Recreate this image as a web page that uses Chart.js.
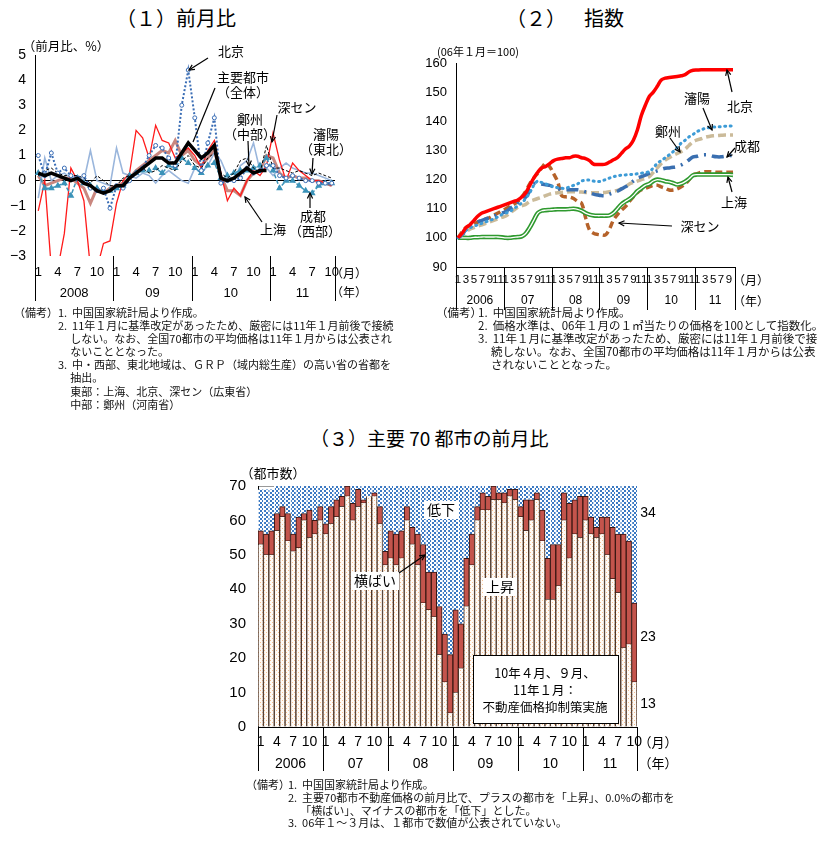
<!DOCTYPE html>
<html><head><meta charset="utf-8">
<script src="https://cdn.jsdelivr.net/npm/chart.js@4.4.0/dist/chart.umd.min.js"></script>
<style>
body{margin:0;background:#fff;width:832px;height:847px;position:relative;overflow:hidden;font-family:'Noto Sans CJK JP',sans-serif;}
canvas{position:absolute;}
.t{position:absolute;white-space:nowrap;color:#000;line-height:1;}
.note{position:absolute;white-space:nowrap;font-size:11.5px;line-height:13.1px;color:#111;}
</style></head><body>
<div class="t" style="left:116px;top:8px;font-size:20px;">（１）前月比</div>
<div class="t" style="left:506px;top:8px;font-size:20px;">（２）</div>
<div class="t" style="left:584px;top:8px;font-size:20px;">指数</div>
<div class="t" style="left:310px;top:428px;font-size:19px;">（３）主要 70 都市の前月比</div>

<canvas id="c1" width="420" height="310" style="left:0;top:0"></canvas>
<canvas id="c2" width="412" height="310" style="left:420px;top:0"></canvas>
<canvas id="c3" width="450" height="340" style="left:230px;top:440px"></canvas>

<div class="note" style="left:14px;top:306px;font-size:11px;">（備考）</div>
<div class="note" style="left:58px;top:306px;font-size:11px;">1.&nbsp;&nbsp;中国国家統計局より作成。<br>2.&nbsp;&nbsp;11年１月に基準改定があったため、厳密には11年１月前後で接続<br>&nbsp;&nbsp;&nbsp;&nbsp;&nbsp;しない。なお、全国70都市の平均価格は11年１月からは公表され<br>&nbsp;&nbsp;&nbsp;&nbsp;&nbsp;ないこととなった。<br>3.&nbsp;&nbsp;中・西部、東北地域は、ＧＲＰ（域内総生産）の高い省の省都を<br>&nbsp;&nbsp;&nbsp;&nbsp;&nbsp;抽出。<br>&nbsp;&nbsp;&nbsp;&nbsp;&nbsp;東部：上海、北京、深セン（広東省）<br>&nbsp;&nbsp;&nbsp;&nbsp;&nbsp;中部：鄭州（河南省）</div>

<div class="note" style="left:436px;top:306px;">（備考）</div>
<div class="note" style="left:478px;top:306px;">1.&nbsp;&nbsp;中国国家統計局より作成。<br>2.&nbsp;&nbsp;価格水準は、06年１月の１㎡当たりの価格を100として指数化。<br>3.&nbsp;&nbsp;11年１月に基準改定があったため、厳密には11年１月前後で接<br>&nbsp;&nbsp;&nbsp;&nbsp;&nbsp;続しない。なお、全国70都市の平均価格は11年１月からは公表<br>&nbsp;&nbsp;&nbsp;&nbsp;&nbsp;されないこととなった。</div>

<div class="note" style="left:246px;top:778px;font-size:11px;line-height:12.8px;">（備考）</div>
<div class="note" style="left:288px;top:778px;font-size:11px;line-height:12.8px;">1.&nbsp;&nbsp;中国国家統計局より作成。<br>2.&nbsp;&nbsp;主要70都市不動産価格の前月比で、プラスの都市を「上昇」、0.0%の都市を<br>&nbsp;&nbsp;&nbsp;&nbsp;&nbsp;「横ばい」、マイナスの都市を「低下」とした。<br>3.&nbsp;&nbsp;06年１～３月は、１都市で数値が公表されていない。</div>

<script>
const F = "'Noto Sans CJK JP', sans-serif";
const FN = "'Liberation Sans', Arial, sans-serif";

// ---------- (1) month-on-month, Jan 2008 - Oct 2011 ----------
const years1 = ['2008','09','10','11'];
const monthsIn1 = [12,12,12,10];
const zentai = [0.3,0.2,0.3,0.2,0.1,0.0,0.1,-0.1,-0.2,-0.4,-0.5,-0.4, -0.2,-0.2,0.1,0.3,0.5,0.7,0.9,0.9,0.7,0.7,1.1,1.5, 1.2,0.9,1.1,1.4,0.1,0.0,0.1,0.3,0.5,0.3,0.4,0.4, null,null,null,null,null,null,null,null,null,null];
const beijing1 = [1.0,0.2,1.1,0.3,0.5,0.2,0.1,0.2,-0.3,-0.4,-0.3,-1.1, -0.2,-0.3,0.0,0.3,0.5,1.0,1.4,1.3,0.9,0.6,3.0,4.4, 2.5,0.4,1.5,2.5,-0.1,0.0,0.0,0.1,0.5,0.3,0.4,0.6, 0.6,0.2,0.1,0.2,0.1,0.0,0.0,-0.1,-0.1,-0.1];
const shenzhen1 = [-1.2,0.0,-3.5,-3.5,-2.1,0.5,0.0,-0.8,-3.5,-3.5,-2.5,-2.4, -0.9,0.0,0.3,2.0,1.7,0.9,2.2,1.6,1.5,0.9,1.1,1.3, 1.0,0.5,1.2,1.6,0.3,-0.8,-0.3,-0.6,0.0,0.4,0.2,0.6, 1.9,0.8,0.0,0.7,0.4,0.2,0.0,0.0,-0.1,-0.2];
const shanghai1 = [0.2,-0.2,-0.1,0.0,0.1,0.1,-0.1,-0.3,-0.9,-0.3,-0.5,-0.3, -0.2,-0.1,0.1,0.4,0.6,0.8,1.0,1.2,1.1,1.6,1.0,1.2, 0.8,0.6,0.9,1.2,0.2,-0.4,-0.4,-0.6,0.0,0.3,0.4,1.0, 0.9,0.3,0.1,0.2,0.1,0.1,0.0,0.0,-0.1,-0.2];
const zhengzhou1 = [0.2,0.4,0.5,0.3,0.2,0.2,0.2,0.1,-0.1,0.2,0.0,-0.2, -0.2,0.1,0.2,0.3,0.5,0.3,0.4,0.6,0.5,0.4,0.8,1.0, 0.6,0.5,0.9,1.1,0.3,0.1,0.3,0.8,0.9,0.5,0.3,1.4, 0.5,0.5,0.4,0.3,0.4,0.3,0.2,0.3,0.2,0.1];
const shenyang1 = [-0.7,0.9,0.0,0.2,0.3,0.1,0.2,0.0,1.2,0.0,-0.1,-0.2, 1.3,0.3,0.2,0.1,0.3,0.2,-0.1,0.2,0.4,0.2,0.0,-0.1, 0.5,0.3,0.6,1.1,0.8,0.2,0.0,0.6,0.8,1.5,0.4,0.5, 0.2,0.5,0.7,0.5,0.4,0.3,0.3,0.2,0.1,0.0];
const chengdu1 = [0.3,-0.3,-0.3,-0.2,-0.1,-0.6,0.1,-0.1,-0.2,-0.3,-0.4,-0.4, -0.3,-0.2,0.2,0.3,0.4,0.4,0.5,0.3,0.6,0.5,0.9,0.7, 0.5,0.3,0.6,0.7,0.1,0.2,0.3,0.4,0.4,0.5,0.6,0.9, 0.4,-0.3,0.0,0.0,-0.2,-0.4,-0.5,-0.2,-0.1,-0.1];

// ---------- (2) index, Jan 2006 - Oct 2011 (Jan 2006 = 100) ----------
const years2 = ['2006','07','08','09','10','11'];
const monthsIn2 = [12,12,12,12,12,10];
const beijing2 = [100,101.5,103.5,104.5,106,107.5,108.5,109,109.5,110,110.5,111, 111.5,112,112.5,113,114,115.5,118,120.5,122.5,124,124.5,125.5, 126.5,127,127.2,127.5,127.5,128,128,127.5,127.2,126.5,125.3,125.2, 125.2,125.3,126,126.8,127.5,129,130.5,131.5,133.5,137,142,145.5, 148.5,150,152,154.2,154.8,155,155.2,155.4,155.6,156,157,157.5, 157.6,157.7,157.7,157.7,157.7,157.7,157.7,157.7,157.7,157.7];
const shenyang2 = [100,101,102.5,103.5,104,104.5,105,105.5,106,106.5,107.2,108, 108.5,109,110,111,112,113.5,115.5,118,119.5,119,118.5,118, 117.5,117.2,117,117,117.5,118,118.5,119.5,119.8,119.8,119.5,119.3, 119.5,120,120.5,121,121.3,121.5,121.6,121.7,121.8,122,122.2,122.5, 122.7,124,125.6,126.5,127.5,128.5,129.6,131,132.5,133.5,134.7,135.5, 136.5,137,137.6,137.8,138,138,138.2,138.3,138.4,138.4];
const chengdu2 = [100,101,103,104.5,105,105.5,106,106.5,107,107.5,108,108.5, 109,110,111,112,113,114,116,118.5,118.8,118.5,118.2,118, 117.5,117,116.5,116.5,116.5,116.5,116.5,116.2,115.8,115.5,115,114.7, 114.5,114.5,115,115.5,116,116.8,117.5,118.5,119.5,120.5,121,121.5, 122.1,122.5,123,123.5,123.9,124,124.2,124.5,125,125.8,126.8,127.8, 128,128.4,128.5,128.4,128,127.8,127.8,128,128.2,128.3];
const zhengzhou2 = [100,101,102,103,103.5,104,104.5,105,105.5,106,106.5,107, 107.5,108.5,109.5,110.5,111,111.5,112.5,113,113.5,114,114.5,115, 115.3,115.5,115.6,115.7,115.8,115.8,115.8,115.7,115.6,115.5,115.5,115.5, 115.5,115.6,115.8,116,116.3,116.8,117.5,118.5,119,119.5,120,120.4, 121,122.5,124,125.5,126.7,127.5,128.3,129,129.6,130.5,131.8,133, 133.6,134,134.5,134.8,135,135.1,135.2,135.3,135.3,135.3];
const shanghai2 = [100,100,100,100,100.2,100.2,100.3,100.3,100.3,100.3,100.3,100.2, 100,100,100.2,100.3,100.5,101.5,103.5,106,108.5,109.3,109.5,109.6, 109.7,109.8,109.8,109.8,109.9,110,109.8,109.3,108.5,108,107.7,107.6, 107.6,107.6,107.7,108.5,110,111.5,112.5,113.3,114.5,116,117,118, 118.5,119.5,120,119.8,119.4,119.2,118.8,118.3,118.6,119.3,120.3,121.5, 121.7,121.7,121.7,121.7,121.7,121.7,121.7,121.7,121.7,121.6];
const shenzhen2 = [100,102,103.5,104.2,104.8,105.5,106,106.5,107,107.8,108.5,109.3, 110,110.8,111.5,112.5,114,116,118.5,120.5,122.2,124,125.6,124.4, 122,119.3,114.5,114.1,114,113.5,112.5,111.9,107,102.7,101.6,101.2, 101,101,103,106.1,108,109.5,110.7,112.5,114.1,115.5,116.5,117, 117.5,118,118.1,117.5,117,116.4,116.4,116.8,117.5,118.5,120,121.6, 122,122.5,122.7,122.7,122.6,122.5,122.5,122.5,122.5,122.5];

// ---------- (3) number of cities, Jan 2006 - Oct 2011 ----------
const years3 = ['2006','07','08','09','10','11'];
const monthsIn3 = [12,12,12,12,12,10];
const rising = [53,50,50,57,61,54,51,52,60,55,56,60, 56,59,61,64,67,60,64,65,67,67,59,47, 49,47,49,60,53,47,36,34,32,21,13,4, 10,17,35,47,60,63,63,66,66,65,67,66, 61,57,60,66,54,37,37,41,60,49,56,55, 60,56,55,56,50,43,39,23,24,13];
const flat   = [4,6,7,5,3,8,5,9,2,8,4,4, 3,5,5,3,3,5,5,1,0,1,5,4, 8,9,8,4,5,9,17,11,13,14,14,17, 24,13,14,9,4,5,4,4,2,3,2,3, 3,9,6,2,9,12,16,12,8,16,10,12, 7,5,3,5,11,15,17,33,30,23];
const falling= [12,13,12,8,6,8,14,9,8,7,10,6, 11,6,4,3,0,5,1,4,3,2,6,19, 13,14,13,6,12,14,17,25,25,35,43,49, 36,40,21,14,6,2,3,0,2,2,1,1, 6,4,4,2,7,21,17,17,2,5,4,3, 3,9,12,9,9,12,14,14,16,34];

function monthLabels(counts){ const l=[]; counts.forEach(c=>{for(let m=1;m<=c;m++) l.push(m);}); return l; }
const lab1 = monthLabels(monthsIn1), lab2 = monthLabels(monthsIn2), lab3 = monthLabels(monthsIn3);

// ---------- decoration plugin: year separators, year labels, notes, arrows ----------
const decor = {
  id:'decor',
  afterDraw(chart, args, o){
    const ctx = chart.ctx, x = chart.scales.x, n = chart.data.labels.length;
    const w = (x.right - x.left)/n;
    const ox = o.ox, oy = o.oy;
    ctx.save();
    ctx.strokeStyle = '#000'; ctx.lineWidth = 1;
    const edges = [0]; let acc = 0;
    o.counts.forEach(c=>{acc+=c; edges.push(acc);});
    edges.forEach(e=>{
      const px = Math.round(x.left + e*w) + 0.5;
      ctx.beginPath(); ctx.moveTo(px, o.sepTop - oy); ctx.lineTo(px, o.sepBottom - oy); ctx.stroke();
    });
    ctx.fillStyle = '#000'; ctx.textAlign = 'center'; ctx.textBaseline = 'middle';
    ctx.font = o.yearFont;
    o.years.forEach((y,k)=>{ ctx.fillText(y, x.left + (edges[k]+edges[k+1])/2*w, o.yearY - oy); });
    (o.boxes||[]).forEach(b=>{
      ctx.fillStyle='#fff'; ctx.fillRect(b[0]-ox, b[1]-oy, b[2], b[3]);
      ctx.strokeStyle='#000'; ctx.lineWidth=1; ctx.strokeRect(Math.round(b[0]-ox)+0.5, Math.round(b[1]-oy)+0.5, b[2], b[3]);
    });
    (o.texts||[]).forEach(t=>{
      ctx.font = t[3] || o.textFont;
      if (t[4]) {
        const tw = ctx.measureText(t[0]).width;
        ctx.fillStyle = '#fff'; ctx.fillRect(t[1]-ox-tw/2-3, t[2]-oy-9, tw+6, 18);
      }
      ctx.fillStyle = '#000'; ctx.fillText(t[0], t[1]-ox, t[2]-oy);
    });
    ctx.strokeStyle = '#000'; ctx.lineWidth = 1.2;
    (o.arrows||[]).forEach(a=>{
      const x1=a[0]-ox, y1=a[1]-oy, x2=a[2]-ox, y2=a[3]-oy;
      ctx.beginPath(); ctx.moveTo(x1,y1); ctx.lineTo(x2,y2); ctx.stroke();
      if (a[4] !== false) {
        const ang = Math.atan2(y2-y1, x2-x1), L = 6;
        ctx.beginPath();
        ctx.moveTo(x2 - L*Math.cos(ang-0.45), y2 - L*Math.sin(ang-0.45));
        ctx.lineTo(x2, y2);
        ctx.lineTo(x2 - L*Math.cos(ang+0.45), y2 - L*Math.sin(ang+0.45));
        ctx.stroke();
      }
    });
    ctx.restore();
  }
};

const minus = v => String(v).replace('-', '−');

// ---------- chart 1 ----------
new Chart(document.getElementById('c1'), {
  type:'line',
  data:{ labels: lab1, datasets:[
    {data: zentai, borderColor:'#000', borderWidth:3.5, pointRadius:0},
    {data: beijing1, borderColor:'#3a6db5', borderWidth:2, borderDash:[2,2], pointRadius:2, pointStyle:'circle', pointBackgroundColor:'#fff', pointBorderColor:'#3a6db5', pointBorderWidth:1},
    {data: zhengzhou1, borderColor:'#000', borderWidth:1, borderDash:[3,2], pointRadius:0},
    {data: chengdu1, borderColor:'#3b93b9', borderWidth:1.5, borderDash:[4,2], pointRadius:2.5, pointStyle:'triangle', pointBackgroundColor:'#3b93b9', pointBorderColor:'#3b93b9'},
    {data: shenzhen1, borderColor:'#ff1a1a', borderWidth:1.3, pointRadius:0},
    {data: shenyang1, borderColor:'#9ab6dc', borderWidth:1.6, pointRadius:0},
    {data: shanghai1, borderColor:'#c9877f', borderWidth:3, pointRadius:0}
  ]},
  options:{
    responsive:false, animation:false, spanGaps:false,
    layout:{padding:{top:55,right:85,left:0,bottom:0}},
    elements:{line:{tension:0}},
    plugins:{legend:{display:false}, tooltip:{enabled:false},
      decor:{ox:0, oy:0, counts:monthsIn1, years:years1, sepTop:256, sepBottom:301, yearY:293,
        yearFont:'13px '+FN, textFont:'13px '+F,
        texts:[['（前月比、%）',66,46,'12.5px '+F],['北京',231,51],['主要都市',243,77],['（全体）',243,92],['深セン',297,107],
          ['鄭州',250,119],['（中部）',250,134],['瀋陽',326,134],['（東北）',326,149],['成都',313,216],['（西部）',315,231],['上海',273,229],
          ['（月）',349,273,'12px '+F],['（年）',349,292,'12px '+F]],
        arrows:[[208,58,189,70],[215,88,193,142,false],[277,115,272,142],[248,141,249,166],[313,158,312,174],[310,208,310,193],[262,222,245,197]]
      }},
    scales:{
      x:{offset:true, grid:{display:false, drawTicks:false}, border:{display:false},
         ticks:{autoSkip:false, maxRotation:0, padding:9, color:'#000', font:{size:13,family:FN},
           callback:(v,i)=>[1,4,7,10].includes(lab1[i]) ? lab1[i] : ''},
         afterFit:s=>{s.height=54;}},
      y:{min:-3, max:5, ticks:{stepSize:1, padding:9, color:'#000', font:{size:14,family:FN}, callback:v=>minus(v)},
         grid:{drawTicks:false, color:c=>c.tick.value===0?'#000':'rgba(0,0,0,0)'}, border:{color:'#000'},
         afterFit:s=>{s.width=35;}}
    }
  },
  plugins:[decor]
});

// ---------- chart 2 ----------
new Chart(document.getElementById('c2'), {
  type:'line',
  data:{ labels: lab2, datasets:[
    {data: beijing2, borderColor:'#ff0000', borderWidth:3.5},
    {data: shenyang2, borderColor:'#3d9bd6', borderWidth:3, borderDash:[1,4.5], borderCapStyle:'round'},
    {data: chengdu2, borderColor:'#3a6fb0', borderWidth:3.5, borderDash:[12,6,2,6]},
    {data: zhengzhou2, borderColor:'#cbbb9a', borderWidth:3.5, borderDash:[8,4]},
    {data: shanghai2, borderColor:'#ffffff', borderWidth:1.3},
    {data: shanghai2, borderColor:'#2f9a2f', borderWidth:4.5},
    {data: shenzhen2, borderColor:'#b5622a', borderWidth:3.5, borderDash:[7,4]}
  ]},
  options:{
    responsive:false, animation:false,
    layout:{padding:{top:63,right:97,left:0,bottom:0}},
    elements:{line:{tension:0.35}, point:{radius:0}},
    plugins:{legend:{display:false}, tooltip:{enabled:false},
      decor:{ox:420, oy:0, counts:monthsIn2, years:years2, sepTop:267, sepBottom:311, yearY:301,
        yearFont:'12px '+FN, textFont:'13px '+F,
        texts:[['(06年１月＝100)',478,52,'11px '+F],['北京',740,106],['瀋陽',697,98],['鄭州',668,131],['成都',747,146],['上海',734,202],['深セン',700,226],
          ['（月）',751,280,'12px '+F],['（年）',751,301,'12px '+F]],
        arrows:[[732,92,727,70],[703,108,712,130],[670,138,680,152],[735,148,727,157],[732,192,728,177],[672,226,619,223]]
      }},
    scales:{
      x:{offset:true, grid:{display:false, drawTicks:false}, border:{color:'#000'},
         ticks:{autoSkip:false, maxRotation:0, padding:6, color:'#000', font:{size:11.5,family:FN},
           callback:(v,i)=> lab2[i]%2===1 ? lab2[i] : ''},
         afterFit:s=>{s.height=43;}},
      y:{min:90, max:160, ticks:{stepSize:10, padding:9, color:'#000', font:{size:13,family:FN}},
         grid:{display:false, drawTicks:false}, border:{color:'#000'},
         afterFit:s=>{s.width=36;}}
    }
  },
  plugins:[decor]
});

// ---------- chart 3 ----------
function makePattern(bg, fg, size, dots){
  const c = document.createElement('canvas'); c.width = c.height = size;
  const g = c.getContext('2d'); g.fillStyle = bg; g.fillRect(0,0,size,size);
  g.fillStyle = fg; dots.forEach(d=>g.fillRect(d[0],d[1],d[2],d[2]));
  return g.createPattern(c, 'repeat');
}
const upPat = makePattern('#fffaf5', '#f5c093', 4, [[0,0,1],[2,2,1]]);
const downPat = makePattern('#ffffff', '#3a78c2', 4, [[0,0,2],[2,2,2]]);

new Chart(document.getElementById('c3'), {
  type:'bar',
  data:{ labels: lab3, datasets:[
    {label:'上昇', data: rising, backgroundColor: upPat, borderColor:'#4a3428', borderWidth:{left:1,right:1,top:0,bottom:0}, borderSkipped:false},
    {label:'横ばい', data: flat, backgroundColor:'#c4544c', borderColor:'#3a1712', borderWidth:1, borderSkipped:false},
    {label:'低下', data: falling, backgroundColor: downPat, borderColor:'#ffffff', borderWidth:{left:1,right:0,top:0,bottom:0}, borderSkipped:false}
  ]},
  options:{
    responsive:false, animation:false,
    layout:{padding:{top:46,right:43,left:0,bottom:0}},
    datasets:{bar:{barPercentage:1, categoryPercentage:1}},
    plugins:{legend:{display:false}, tooltip:{enabled:false},
      decor:{ox:230, oy:440, counts:monthsIn3, years:years3, sepTop:727, sepBottom:771, yearY:764,
        yearFont:'14px '+FN, textFont:'14px '+F,
        boxes:[[473,655,145,68]],
        texts:[['（都市数）',273,473,'13px '+F],['低下',441,510,null,true],['横ばい',375,581,null,true],['上昇',500,587,null,true],
          ['34',648,513,'14px '+FN],['23',648,637,'14px '+FN],['13',648,704,'14px '+FN],
          ['10年４月、９月、',545,673,'12.5px '+F],['11年１月：',545,690,'12.5px '+F],['不動産価格抑制策実施',545,707,'12.5px '+F],
          ['（月）',658,742,'13px '+F],['（年）',658,763,'13px '+F]],
        arrows:[[399,573,425,555]]
      }},
    scales:{
      x:{stacked:true, offset:true, grid:{display:false, drawTicks:false}, border:{color:'#000'},
         ticks:{autoSkip:false, maxRotation:0, padding:7, color:'#000', font:{size:14,family:FN},
           callback:(v,i)=>[1,4,7,10].includes(lab3[i]) ? lab3[i] : ''},
         afterFit:s=>{s.height=53;}},
      y:{stacked:true, min:0, max:70, ticks:{stepSize:10, padding:12, color:'#000', font:{size:15,family:FN}},
         grid:{drawTicks:false, color:c=>c.tick.value===70?'#999':'rgba(0,0,0,0)'}, border:{color:'#000'},
         afterFit:s=>{s.width=28;}}
    }
  },
  plugins:[decor]
});
</script>
</body></html>
